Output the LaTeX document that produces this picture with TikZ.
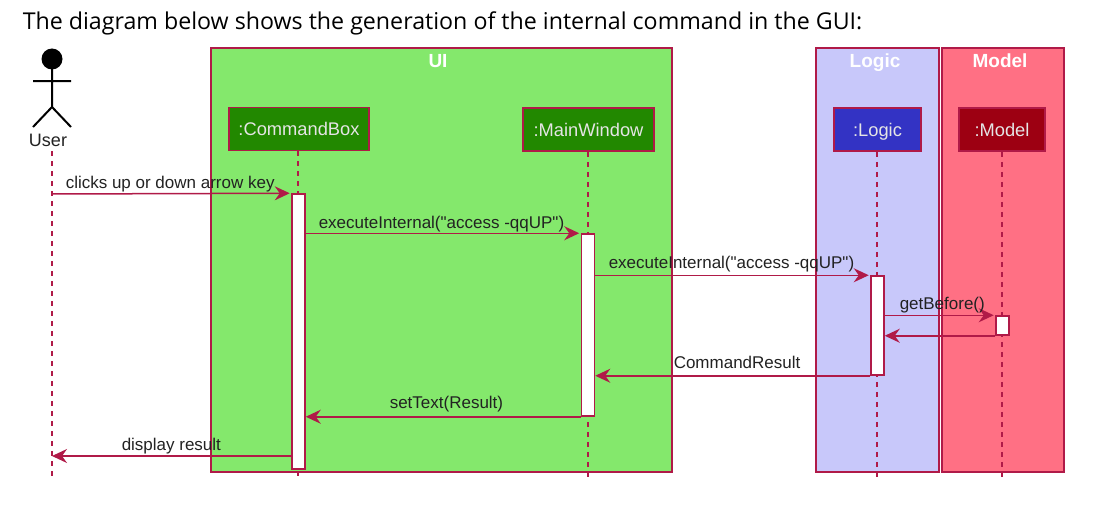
\documentclass[tikz,border=0pt]{standalone}
\usepackage{fontspec}
\setmainfont{Liberation Sans}[Ligatures=TeXOff]
\newfontfamily\titlefont{Open Sans}
\usetikzlibrary{arrows.meta}
\definecolor{seqline}{HTML}{B01A48}
\definecolor{uibg}{HTML}{84E86C}
\definecolor{uihead}{HTML}{228800}
\definecolor{logicbg}{HTML}{C8C8FA}
\definecolor{logichead}{HTML}{3333C4}
\definecolor{modelbg}{HTML}{FF7084}
\definecolor{modelhead}{HTML}{9D0012}
\definecolor{seqtext}{HTML}{222222}
\begin{document}
\begin{tikzpicture}[x = 1pt, y = -1pt, line width = 1.5pt,
                        group/.style = {draw = seqline, line width = 1.1pt, minimum height = 424pt, inner sep = 0pt},
                        grouptitle/.style = {text = white, inner sep = 0pt, anchor = base, font = \fontsize{19}{19}\selectfont\bfseries},
                        head/.style = {draw = seqline, line width = 1.6pt, minimum height = 43pt, inner sep = 0pt, text height = 13pt, text depth = 0pt, text = white!90!black, font = \fontsize{18.3}{18}\selectfont},
                        life/.style = {draw = seqline, line width = 1.2pt, dash pattern = on 5pt off 5pt},
                        activation/.style = {draw = seqline, fill = white, minimum width = 13pt, inner sep = 0pt},
                        msg/.style = {draw = seqline, shorten > = 1.5pt, -{Stealth[length = 15pt, width = 14pt, inset = 5pt]}},
                        msgback/.style = {msg, shorten > = 0pt},
                        msglabel/.style = {text = seqtext, inner sep = 0pt, anchor = base west, font = \fontsize{17}{17}\selectfont}]
      \useasboundingbox (0, 0) rectangle (1116, 511);
      \node [anchor = base west, inner sep = 0pt, text = black, font = \fontsize{23.2}{24}\selectfont\titlefont] (title) at (22, 30){The diagram below shows the generation of the internal command in the GUI:};
      \node [group, fill = uibg, minimum width = 461pt] (ui) at (441.5, 260){};
      \node [group, fill = logicbg, minimum width = 123pt] (logicbox) at (877.5, 260){};
      \node [group, fill = modelbg, minimum width = 122pt] (modelbox) at (1003, 260){};
      \node [grouptitle] (uititle) at (438, 67){UI};
      \node [grouptitle] (logictitle) at (875, 67){Logic};
      \node [grouptitle] (modeltitle) at (1000, 67){Model};
      \coordinate (utop) at (52, 151);
      \coordinate (ubottom) at (52, 480);
      \coordinate (cbottom) at (298, 480);
      \coordinate (wbottom) at (588, 480);
      \coordinate (lbottom) at (877, 480);
      \coordinate (mbottom) at (1002, 480);
      \node [head, fill = uihead, minimum width = 140pt] (box) at (299, 129){:CommandBox};
      \node [head, fill = uihead, minimum width = 131pt] (win) at (588.5, 129.5){:MainWindow};
      \node [head, fill = logichead, minimum width = 87pt] (logic) at (877.5, 129.5){:Logic};
      \node [head, fill = modelhead, minimum width = 86pt] (model) at (1002, 129.5){:Model};
      \draw [life] (box.south -| cbottom) -- (cbottom);
      \draw [life] (utop) -- (ubottom);
      \draw [life] (win.south -| wbottom) -- (wbottom);
      \draw [life] (logic.south -| lbottom) -- (lbottom);
      \draw [life] (model.south -| mbottom) -- (mbottom);
      \node [activation, minimum height = 275pt] (a1) at (298.5, 331.5){};
      \node [activation, minimum height = 182pt] (a2) at (588, 325){};
      \node [activation, minimum height = 99pt] (a3) at (877.5, 325.5){};
      \node [activation, minimum height = 19pt] (a4) at (1002.5, 325.5){};
      \fill (52, 59) circle (10.5pt);
      \draw [line width = 2pt] (33, 81) -- (71, 81) (52, 59) -- (52, 107) (33, 127) -- (52, 107) -- (71, 127);
      \node [text = seqtext, inner sep = 0pt, anchor = base, font = \fontsize{18}{18}\selectfont] (user) at (48, 146){User};
      \coordinate (u1) at (52, 194);
      \coordinate (u2) at (52, 456);
      \draw [msg] (u1) -- (a1.north west);
      \draw [msg] (a1.east |- a2.north) -- (a2.north west);
      \draw [msg] (a2.east |- a3.north) -- (a3.north west);
      \draw [msg] (a3.east |- a4.north) -- (a4.north west);
      \draw [msgback] (a4.south west) -- (a3.east |- a4.south);
      \draw [msgback] (a3.south west) -- (a2.east |- a3.south);
      \draw [msgback] (a2.south west) -- (a1.east |- a2.south);
      \draw [msgback] (a1.west |- u2) -- (u2);
      \node [msglabel] (m1) at (65, 188){clicks up or down arrow key};
      \node [msglabel] (m2) at (318, 228){executeInternal("access -qqUP")};
      \node [msglabel] (m3) at (608, 268){executeInternal("access -qqUP")};
      \node [msglabel] (m4) at (899, 309){getBefore()};
      \node [msglabel] (m5) at (673, 368){CommandResult};
      \node [msglabel] (m6) at (389, 408){setText(Result)};
      \node [msglabel] (m7) at (121, 450){display result};
    \end{tikzpicture}
\end{document}
